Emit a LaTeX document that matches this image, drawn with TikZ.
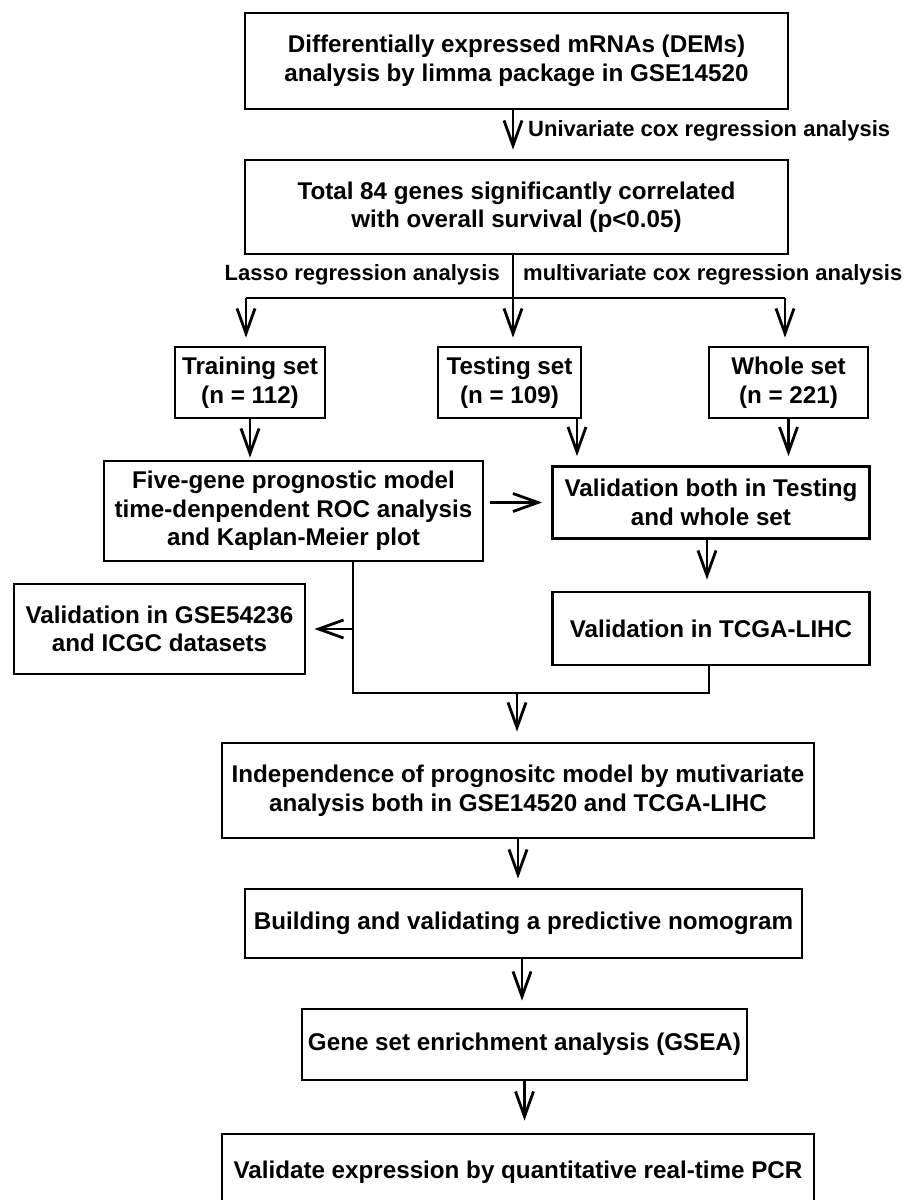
\documentclass[tikz,border=0pt]{standalone}
\usepackage{fontspec}
\setmainfont{Liberation Sans}
\usetikzlibrary{arrows.meta}
\begin{document}
\begin{tikzpicture}[x=1pt,y=-1pt,
  box/.style={draw, line width=2.8pt, rectangle, inner sep=0pt, align=center,
    font=\fontsize{24.2}{28.5}\selectfont\bfseries},
  lab/.style={inner sep=0pt, font=\fontsize{22}{26}\selectfont\bfseries},
  ln/.style={line width=2.8pt},
  arr/.style={line width=2.8pt, -{Straight Barb[length=25pt,width=18pt,line width=2.8pt]}}]
\useasboundingbox (0,0) rectangle (912,1200);
\fill[white] (0,0) rectangle (912,1200);

% boxes
\node[box, minimum width=543pt, minimum height=96pt] (b1) at (516.5,61)
  {Differentially expressed mRNAs (DEMs)\\analysis by limma package in GSE14520};
\node[box, minimum width=543pt, minimum height=94pt] (b2) at (516.5,207)
  {Total 84 genes significantly correlated\\with overall survival (p<0.05)};
\node[box, minimum width=150pt, minimum height=71pt] (train) at (250,382.5)
  {Training set\\(n = 112)};
\node[box, minimum width=143pt, minimum height=71pt] (test) at (509.5,382.5)
  {Testing set\\(n = 109)};
\node[box, minimum width=159pt, minimum height=71pt] (whole) at (788.5,382.5)
  {Whole set\\(n = 221)};
\node[box, minimum width=379pt, minimum height=100pt] (five) at (293.5,511)
  {Five-gene prognostic model\\time-denpendent ROC analysis\\and Kaplan-Meier plot};
\node[box, minimum width=317pt, minimum height=72pt] (vboth) at (711,502.5)
  {Validation both in Testing\\and whole set};
\node[box, minimum width=291pt, minimum height=90pt] (gse) at (159.5,629)
  {Validation in GSE54236\\and ICGC datasets};
\node[box, minimum width=317pt, minimum height=73pt] (tcga) at (711,628.5)
  {Validation in TCGA-LIHC};
\node[box, minimum width=592pt, minimum height=95pt] (indep) at (518,790.5)
  {Independence of prognositc model by mutivariate\\analysis both in GSE14520 and TCGA-LIHC};
\node[box, minimum width=557pt, minimum height=69pt] (build) at (523.5,923.5)
  {Building and validating a predictive nomogram};
\node[box, minimum width=445pt, minimum height=71pt] (gsea) at (524.5,1044.5)
  {Gene set enrichment analysis (GSEA)};
\node[box, minimum width=592pt, minimum height=76pt] (valid) at (518,1172)
  {Validate expression by quantitative real-time PCR};

% labels
\node[lab, anchor=west] (l1) at (528,131) {Univariate cox regression analysis};
\node[lab, anchor=east] (l2) at (500,275) {Lasso regression analysis};
\node[lab, anchor=west] (l3) at (523,275) {multivariate cox regression analysis};

% helper coordinates
\coordinate (xm) at (513,0);
\coordinate (jm) at (513,298);
\coordinate (jl) at (246,298);
\coordinate (jr) at (785,298);
\coordinate (xt) at (577,0);
\coordinate (xv) at (707,0);
\coordinate (xl) at (353,0);
\coordinate (xr) at (709,0);
\coordinate (xb) at (522,0);
\coordinate (mg) at (517,693);

% connectors
\draw[arr, shorten >=9pt] (b1.south -| xm) -- (b2.north -| xm);
\draw[ln] (b2.south -| xm) -- (jm);
\draw[ln] (jl) -- (jr);
\draw[arr, shorten >=8pt] (jm) -- (test.north -| jm);
\draw[arr, shorten >=8pt] (jl) -- (train.north -| jl);
\draw[arr, shorten >=8pt] (jr) -- (whole.north -| jr);

\draw[arr, shorten >=2pt] (train.south) -- (five.north -| train.south);
\draw[arr, shorten >=9pt] (test.south -| xt) -- (vboth.north -| xt);
\draw[arr, shorten >=9pt] (whole.south) -- (vboth.north -| whole.south);
\draw[arr, shorten <=6pt, shorten >=9pt] (five.east |- vboth.west) -- (vboth.west);
\draw[arr, shorten >=11pt] (vboth.south -| xv) -- (tcga.north -| xv);

\draw[ln] (five.south -| xl) -- (xl |- mg) -- (xr |- mg) -- (tcga.south -| xr);
\draw[arr, shorten >=8pt] (xl |- gse.east) -- (gse.east);
\draw[arr, shorten >=10pt] (mg) -- (indep.north -| mg);

\draw[arr, shorten >=9pt] (indep.south) -- (build.north -| indep.south);
\draw[arr, shorten >=7pt] (build.south -| xb) -- (gsea.north -| xb);
\draw[arr, shorten >=12pt] (gsea.south) -- (valid.north -| gsea.south);
\end{tikzpicture}
\end{document}
